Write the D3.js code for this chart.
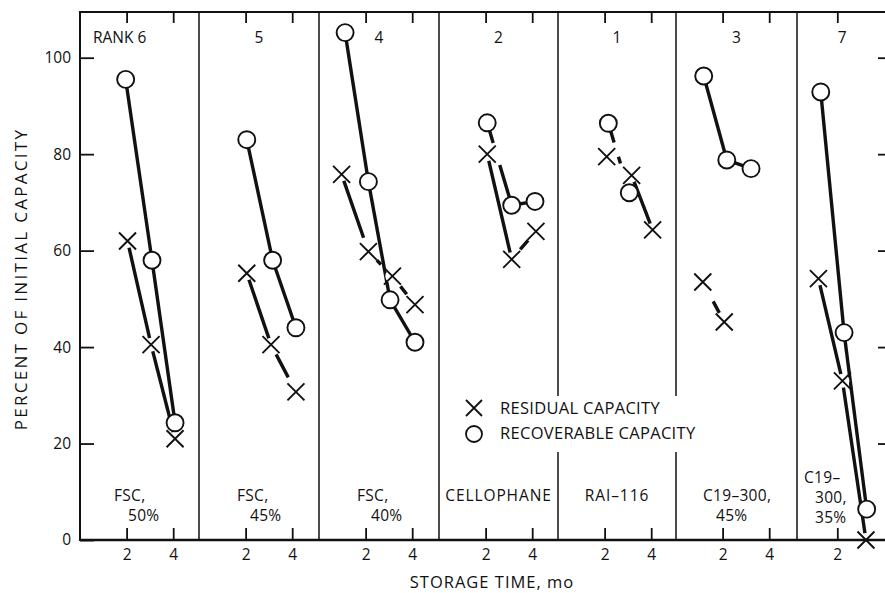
<!DOCTYPE html>
<html>
<head>
<meta charset="utf-8">
<script src="https://cdn.jsdelivr.net/npm/d3@7"></script>
<style>
  html, body { margin: 0; padding: 0; background: #fff; }
  svg text { font-family: "Open Sans", sans-serif; fill: #111; }
</style>
</head>
<body>
<svg id="chart" width="885" height="593"></svg>
<script>
// === DATA ======================================================
const ranks = ["RANK 6", "5", "4", "2", "1", "3", "7"];
const materials = [
    ["FSC,", "50%"], ["FSC,", "45%"], ["FSC,", "40%"], ["CELLOPHANE"],
    ["RAI\u2013116"], ["C19\u2013300,", "45%"], ["C19\u2013", "300,", "35%"]
];

// residual capacity (X markers): storage time in months, percent of initial
const residualMonths = [
    [2.04, 3.05, 4.08],
    [2.05, 3.09, 4.16],
    [0.97, 2.12, 3.15, 4.12],
    [2.07, 3.12, 4.16],
    [2.09, 3.16, 4.06],
    [1.15, 2.07],
    [1.19, 2.22, 3.23]
];
const residualValues = [
    [62, 40.5, 21],
    [55.3, 40.5, 30.7],
    [75.8, 59.8, 54.7, 48.8],
    [80, 58.2, 64],
    [79.5, 75.6, 64.3],
    [53.5, 45.2],
    [54.2, 33, 0]
];

// recoverable capacity (O markers)
const recoverableMonths = [
    [1.96, 3.09, 4.08],
    [2.05, 3.16, 4.16],
    [1.12, 2.12, 3.05, 4.12],
    [2.07, 3.12, 4.12],
    [2.16, 3.06],
    [1.19, 2.18, 3.22],
    [1.29, 2.29, 3.26]
];
const recoverableValues = [
    [95.5, 58, 24.3],
    [83, 58, 44],
    [105.2, 74.3, 49.8, 41],
    [86.5, 69.4, 70.2],
    [86.4, 72],
    [96.2, 78.8, 77],
    [92.9, 43, 6.4]
];

const monthTicks = [2, 4];
const percentTicks = [0, 20, 40, 60, 80, 100];

// === LAYOUT / STYLE ============================================
const svg = d3.select("#chart");
const TOP = 12, BOTTOM = 540, RIGHT = 892;
const edges = [80, 199, 319, 439, 558, 676, 797, RIGHT];
const monthPx = 23.3;
const startMonth = [0, 0, 0, 0, 0, 0, 0.27];

// broken / dashed connecting segments: "panel-series-segment"
const segmentDash = {
    "1-res-1": "0,11,26,100",
    "2-res-0": "67,100",
    "2-res-1": "0,12,6,100",
    "2-res-2": "0,13,10,100",
    "3-rec-0": "21,23,100",
    "3-res-1": "0,13,12,100",
    "4-rec-0": "20,15,7,60",
    "4-res-0": "0,100",
    "5-res-0": "0,22,13,100"
};

// label placement inside the panels (offset from the panel's left edge)
const labelOffsets = [[34, 48], [38, 51], [38, 52], null, null, [27, 40], [7, 18, 18]];

const y = d3.scaleLinear().domain([0, 100]).range([BOTTOM, 57.7]);
const xs = edges.slice(0, -1).map((e, i) =>
    d3.scaleLinear()
        .domain([startMonth[i], startMonth[i] + (edges[i + 1] - e) / monthPx])
        .range([e, edges[i + 1]]));

const FONT = 15.5;

// === DATA MARKS ================================================
const lineLayer = svg.append("g");
const markLayer = svg.append("g");

function series(months, values) {
    return months.map((m, i) => ({ m, v: values[i] }));
}

xs.forEach((x, p) => {
    const sets = [
        { key: "res", pts: series(residualMonths[p], residualValues[p]) },
        { key: "rec", pts: series(recoverableMonths[p], recoverableValues[p]) }
    ];

    sets.forEach(s => {
        const segs = d3.pairs(s.pts).map((pr, k) => ({ a: pr[0], b: pr[1], id: `${p}-${s.key}-${k}` }));
        lineLayer.selectAll(null)
            .data(segs)
            .enter()
            .append("line")
            .attr("x1", d => x(d.a.m)).attr("y1", d => y(d.a.v))
            .attr("x2", d => x(d.b.m)).attr("y2", d => y(d.b.v))
            .attr("stroke", "#111")
            .attr("stroke-width", 3.4)
            .attr("stroke-dasharray", d => segmentDash[d.id] || null);
    });

    // X markers
    const xm = markLayer.selectAll(null)
        .data(sets[0].pts)
        .enter()
        .append("g")
        .attr("transform", d => `translate(${x(d.m)},${y(d.v)})`);
    xm.append("circle").attr("r", 7).attr("fill", "#fff");
    xm.append("path")
        .attr("d", "M-8.5,-8.5L8.5,8.5M-8.5,8.5L8.5,-8.5")
        .attr("stroke", "#111").attr("stroke-width", 1.9).attr("fill", "none");

    // O markers
    markLayer.selectAll(null)
        .data(sets[1].pts)
        .enter()
        .append("circle")
        .attr("cx", d => x(d.m)).attr("cy", d => y(d.v))
        .attr("r", 8.5)
        .attr("fill", "#fff")
        .attr("stroke", "#111")
        .attr("stroke-width", 1.9);
});

// === FRAME, AXES ===============================================
const frame = svg.append("g");

xs.forEach((x, p) => {
    const ticks = monthTicks.filter(t => x(t) < edges[p + 1] - 10);

    const bottomAxis = frame.append("g")
        .attr("transform", `translate(0,${BOTTOM})`)
        .call(d3.axisBottom(x).tickValues(ticks).tickSize(-12).tickPadding(9).tickFormat(d3.format("d")));
    bottomAxis.select(".domain").remove();
    bottomAxis.selectAll("text").attr("font-size", FONT);

    const topAxis = frame.append("g")
        .attr("transform", `translate(0,${TOP})`)
        .call(d3.axisTop(x).tickValues(ticks).tickSize(-11).tickFormat(""));
    topAxis.select(".domain").remove();
});

const leftAxis = frame.append("g")
    .attr("transform", `translate(${edges[0]},0)`)
    .call(d3.axisLeft(y).tickValues(percentTicks).tickSize(-14).tickPadding(9));
leftAxis.select(".domain").remove();
leftAxis.selectAll("text").attr("font-size", FONT);

const rightAxis = frame.append("g")
    .attr("transform", `translate(${RIGHT},0)`)
    .call(d3.axisRight(y).tickValues(percentTicks.slice(1)).tickSize(-14).tickFormat(""));
rightAxis.select(".domain").remove();

frame.selectAll(".tick line").attr("stroke", "#111").attr("stroke-width", 1.8);
frame.selectAll(".tick text").attr("fill", "#111");
frame.selectAll("g").attr("font-family", null);

// outer box
frame.append("line").attr("x1", edges[0]).attr("x2", edges[0]).attr("y1", TOP - 1).attr("y2", BOTTOM + 1)
    .attr("stroke", "#111").attr("stroke-width", 2);
frame.append("line").attr("x1", edges[0]).attr("x2", RIGHT).attr("y1", TOP).attr("y2", TOP)
    .attr("stroke", "#111").attr("stroke-width", 2);
frame.append("line").attr("x1", edges[0]).attr("x2", RIGHT).attr("y1", BOTTOM).attr("y2", BOTTOM)
    .attr("stroke", "#111").attr("stroke-width", 2.6);

// panel dividers
frame.selectAll(null)
    .data(edges.slice(1, -1))
    .enter()
    .append("line")
    .attr("x1", d => d).attr("x2", d => d)
    .attr("y1", TOP).attr("y2", BOTTOM)
    .attr("stroke", "#111")
    .attr("stroke-width", 1.5);

// === PANEL LABELS ==============================================
xs.forEach((x, p) => {
    const left = edges[p], right = edges[p + 1];
    const mid = p === 6 ? x(2) + 5 : (left + right) / 2;

    svg.append("text")
        .attr("x", p === 0 ? left + 13 : mid)
        .attr("y", 43)
        .attr("text-anchor", p === 0 ? "start" : "middle")
        .attr("font-size", FONT)
        .text(ranks[p]);

    const lines = materials[p];
    const base = lines.length === 3 ? 483 : 501;
    lines.forEach((t, k) => {
        const off = labelOffsets[p];
        svg.append("text")
            .attr("x", off ? left + off[k] : (left + right) / 2)
            .attr("y", base + k * 20)
            .attr("text-anchor", off ? "start" : "middle")
            .attr("font-size", FONT)
            .attr("letter-spacing", off ? 0.3 : 0.9)
            .text(t);
    });
});

// === LEGEND ====================================================
const legend = svg.append("g");
legend.append("rect")
    .attr("x", 456).attr("y", 396).attr("width", 248).attr("height", 56)
    .attr("fill", "#fff");

legend.append("path")
    .attr("d", "M466,400L482,416M466,416L482,400")
    .attr("stroke", "#111").attr("stroke-width", 1.8).attr("fill", "none");
legend.append("circle")
    .attr("cx", 474).attr("cy", 434).attr("r", 8)
    .attr("fill", "#fff").attr("stroke", "#111").attr("stroke-width", 1.8);

legend.selectAll(null)
    .data(["RESIDUAL CAPACITY", "RECOVERABLE CAPACITY"])
    .enter()
    .append("text")
    .attr("x", 500)
    .attr("y", (d, i) => 414 + i * 25)
    .attr("font-size", 16.5)
    .attr("letter-spacing", 0.3)
    .text(d => d);

// === AXIS TITLES ===============================================
svg.append("text")
    .attr("transform", "translate(27,279) rotate(-90)")
    .attr("text-anchor", "middle")
    .attr("font-size", 17)
    .attr("letter-spacing", 2.3)
    .text("PERCENT OF INITIAL CAPACITY");

svg.append("text")
    .attr("x", 492)
    .attr("y", 588)
    .attr("text-anchor", "middle")
    .attr("font-size", 16.5)
    .attr("letter-spacing", 1)
    .text("STORAGE TIME, mo");
</script>
</body>
</html>
